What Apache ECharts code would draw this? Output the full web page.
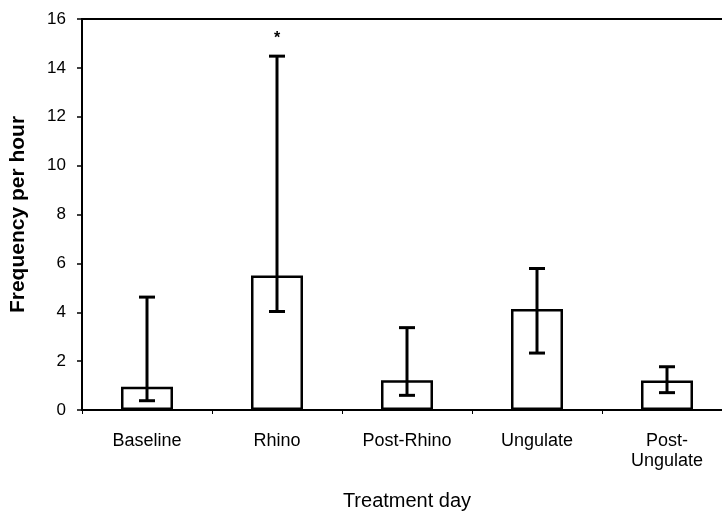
<!DOCTYPE html>
<html>
<head>
<meta charset="utf-8">
<script src="https://cdn.jsdelivr.net/npm/echarts@6/dist/echarts.min.js"></script>
<style>
  html, body { margin: 0; padding: 0; background: #fff; overflow: hidden; width: 722px; height: 517px; }
  /* the plot runs a little past the right edge of the page */
  #chart { width: 732px; height: 517px; }
</style>
</head>
<body>
<div id="chart"></div>
<script>
// Treatment days on the category axis
const categories = ['Baseline', 'Rhino', 'Post-Rhino', 'Ungulate', 'Post-\nUngulate'];
// Mean frequency per hour for each treatment day
const means = [0.95, 5.5, 1.22, 4.13, 1.21];
// Lower and upper ends of the error bars
const lowerBounds = [0.38, 4.03, 0.6, 2.33, 0.71];
const upperBounds = [4.62, 14.48, 3.37, 5.79, 1.77];
// Significance markers drawn above the error bars
const markers = ['', '*', '', '', ''];
// Y axis ticks
const yMin = 0, yMax = 16, yStep = 2;

const font = 'Liberation Sans, Arial, sans-serif';
const chart = echarts.init(document.getElementById('chart'), null, { renderer: 'canvas' });

const errorData = categories.map((c, i) => [i, lowerBounds[i], upperBounds[i], markers[i]]);

chart.setOption({
  animation: false,
  backgroundColor: '#fff',
  grid: {
    left: 82, right: 0, top: 19, bottom: 107,
    show: true, borderColor: '#000', borderWidth: 2, backgroundColor: 'transparent'
  },
  xAxis: {
    type: 'category',
    data: categories,
    boundaryGap: true,
    name: 'Treatment day',
    nameLocation: 'middle',
    nameGap: 81,
    nameTextStyle: { fontFamily: font, fontSize: 20, color: '#000' },
    axisLine: { lineStyle: { color: '#000', width: 2 } },
    axisTick: { show: true, length: 4, lineStyle: { color: '#000', width: 1 } },
    axisLabel: { fontFamily: font, fontSize: 18, color: '#000', margin: 21, lineHeight: 20, interval: 0 }
  },
  yAxis: {
    type: 'value',
    min: yMin, max: yMax, interval: yStep,
    name: 'Frequency per hour',
    nameLocation: 'middle',
    nameGap: 53,
    nameTextStyle: { fontFamily: font, fontSize: 21, fontWeight: 'bold', color: '#000' },
    axisLine: { show: true, lineStyle: { color: '#000', width: 2 } },
    axisTick: { show: true, length: 5, lineStyle: { color: '#000', width: 1.5 } },
    axisLabel: { fontFamily: font, fontSize: 17, color: '#000', margin: 16 },
    splitLine: { show: false }
  },
  series: [
    {
      type: 'bar',
      data: means,
      barWidth: '40%',
      itemStyle: { color: '#fff', borderColor: '#000', borderWidth: 2.5 },
      z: 2
    },
    {
      type: 'custom',
      data: errorData,
      z: 3,
      renderItem: function (params, api) {
        const x = api.value(0);
        const lo = api.coord([x, api.value(1)]);
        const hi = api.coord([x, api.value(2)]);
        const mark = api.value(3);
        const half = 8;
        const style = { stroke: '#000', lineWidth: 3 };
        const children = [
          { type: 'line', shape: { x1: lo[0], y1: lo[1], x2: hi[0], y2: hi[1] }, style: style },
          { type: 'line', shape: { x1: lo[0] - half, y1: lo[1], x2: lo[0] + half, y2: lo[1] }, style: style },
          { type: 'line', shape: { x1: hi[0] - half, y1: hi[1], x2: hi[0] + half, y2: hi[1] }, style: style }
        ];
        if (mark) {
          children.push({
            type: 'text',
            style: {
              text: mark, x: hi[0], y: hi[1] - 18,
              align: 'center', verticalAlign: 'middle',
              font: 'bold 16px ' + font, fill: '#000'
            }
          });
        }
        return { type: 'group', children: children };
      }
    }
  ]
});
</script>
</body>
</html>
